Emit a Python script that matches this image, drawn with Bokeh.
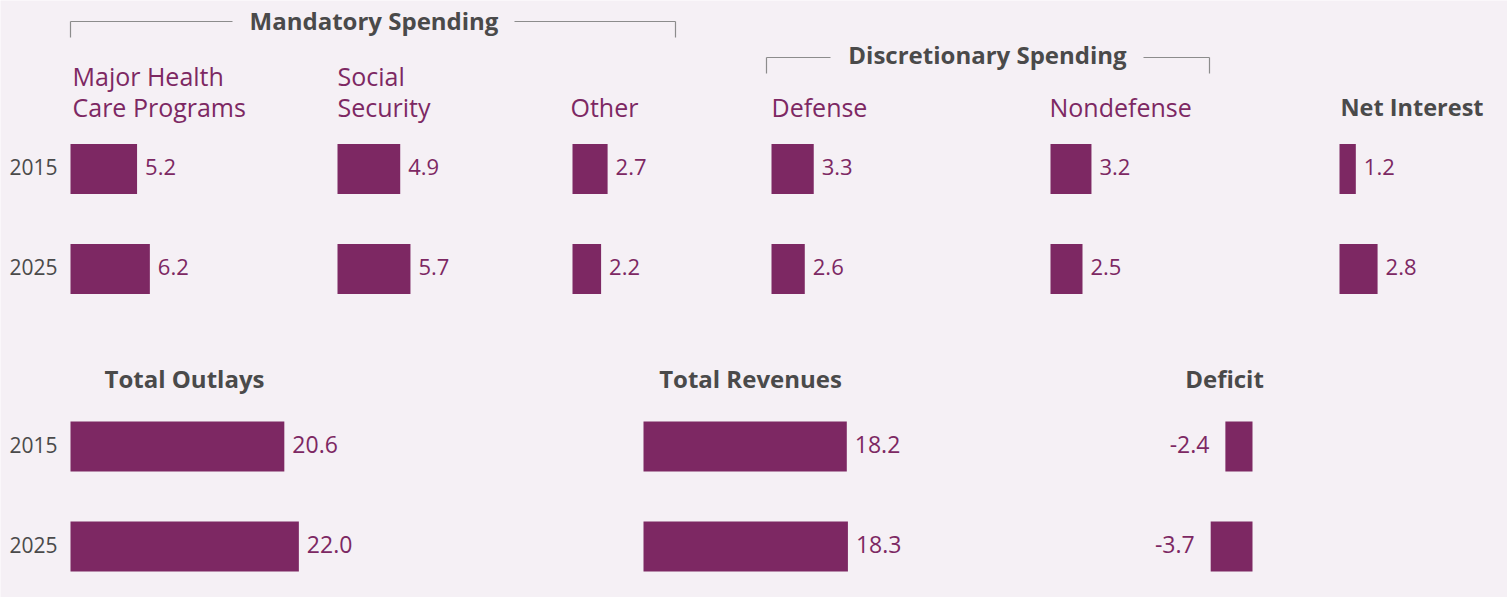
from bokeh.plotting import figure
from bokeh.models import Range1d, ColumnDataSource
from bokeh.core.properties import value
from bokeh.embed import file_html
from bokeh.resources import INLINE

# ---------------- data ----------------
years = ["2015", "2025"]
health_care = [5.2, 6.2]
social_security = [4.9, 5.7]
other_mandatory = [2.7, 2.2]
defense = [3.3, 2.6]
nondefense = [3.2, 2.5]
net_interest = [1.2, 2.8]
total_outlays = [20.6, 22.0]
total_revenues = [18.2, 18.3]
deficit = [-2.4, -3.7]

# ---------------- style ----------------
BG = "#f5f0f5"
PURPLE = "#7d2863"
GRAY = "#4a4a4a"
RULE = "#8c8c8c"
FONT = "Open Sans"

W, H, M = 1507, 597, 0
DY = -10  # baseline correction for the svg text renderer

p = figure(width=W, height=H, x_range=Range1d(M, M + W), y_range=Range1d(M + H, M),
           output_backend="svg", toolbar_location=None, min_border=0,
           x_axis_location=None, y_axis_location=None)
p.grid.visible = False
p.outline_line_color = None
p.background_fill_color = BG
p.border_fill_color = BG

ranges = {}


def txt(x, y, s, color=GRAY, size=25, bold=False, align="left", baseline="alphabetic"):
    p.text(x=[x], y=[y + DY], text=[s], text_color=color, text_font=value(FONT),
           text_font_size=f"{size}px", text_font_style="bold" if bold else "normal",
           text_align=align, text_baseline=baseline)


def panel(name, x0, k, vals, row_y, bar_h, lab_size):
    s = (M - x0) / k
    ranges[name] = Range1d(s, s + W / k)
    p.extra_x_ranges = dict(ranges)
    src = ColumnDataSource(dict(
        y=row_y,
        left=[min(v, 0) for v in vals],
        right=[max(v, 0) for v in vals],
        v=vals,
        ty=[y + 8 + DY for y in row_y],
        lab=[f"{v:.1f}" for v in vals],
    ))
    p.hbar(y="y", left="left", right="right", height=bar_h, source=src,
           x_range_name=name, fill_color=PURPLE, line_color=None)
    neg = vals[0] < 0
    p.text(x="v", y="ty", text="lab", source=src, x_range_name=name,
           x_offset=-16 if neg else 8, text_align="right" if neg else "left",
           text_baseline="alphabetic", text_color=PURPLE, text_font=value(FONT),
           text_font_size=f"{lab_size}px")


top_rows = [168.5, 268.5]
bot_rows = [446, 546]
K_TOP = 12.8

panel("hc", 70, K_TOP, health_care, top_rows, 50, 22)
panel("ss", 337, K_TOP, social_security, top_rows, 50, 22)
panel("ot", 572, 13.0, other_mandatory, top_rows, 50, 22)
panel("de", 771, K_TOP, defense, top_rows, 50, 22)
panel("nd", 1050, K_TOP, nondefense, top_rows, 50, 22)
panel("ni", 1339, 13.6, net_interest, top_rows, 50, 22)
panel("to", 70, 10.38, total_outlays, bot_rows, 50, 23)
panel("tr", 643, 11.17, total_revenues, bot_rows, 50, 23)
panel("df", 1252, 11.3, deficit, bot_rows, 50, 23)

# year labels
for i, yr in enumerate(years):
    txt(9, top_rows[i] + 8, yr, size=21)
    txt(9, bot_rows[i] + 8, yr, size=21)

# category labels
txt(72, 85, "Major Health", PURPLE)
txt(72, 116.5, "Care Programs", PURPLE)
txt(337, 85, "Social", PURPLE)
txt(337, 116.5, "Security", PURPLE)
txt(570, 116.5, "Other", PURPLE)
txt(771, 116.5, "Defense", PURPLE)
txt(1049, 116.5, "Nondefense", PURPLE)
txt(1340, 116.5, "Net Interest", GRAY, size=23.5, bold=True)

# group titles
txt(373.5, 29.5, "Mandatory Spending", size=24, bold=True, align="center")
txt(987, 64, "Discretionary Spending", size=24, bold=True, align="center")
txt(184, 387.5, "Total Outlays", size=24, bold=True, align="center")
txt(750, 387.5, "Total Revenues", size=24, bold=True, align="center")
txt(1224, 387.5, "Deficit", size=24, bold=True, align="center")

# brackets
p.segment(x0=[70, 514, 70, 675, 766, 1143, 766, 1209],
          y0=[21, 21, 21, 21, 57, 57, 57, 57],
          x1=[232, 675, 70, 675, 830, 1209, 766, 1209],
          y1=[21, 21, 37, 37, 57, 57, 73, 73],
          line_color=RULE, line_width=1.2)

open("out.html", "w").write(file_html(p, INLINE))
